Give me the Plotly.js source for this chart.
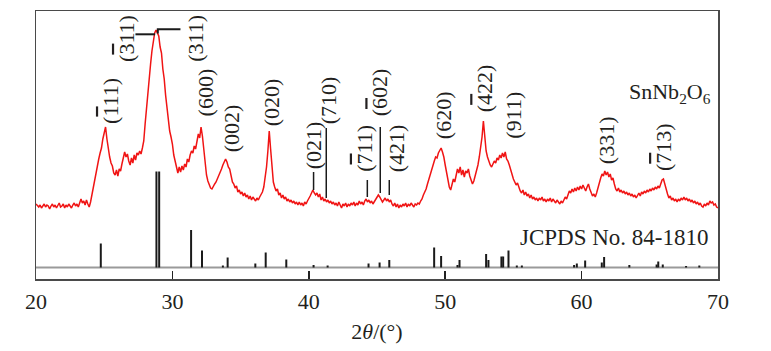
<!DOCTYPE html>
<html>
<head>
<meta charset="utf-8">
<script src="https://cdn.plot.ly/plotly-3.0.1.min.js"></script>
<style>html,body{margin:0;padding:0;background:#fff;}#chart{width:771px;height:351px;}</style>
</head>
<body>
<div id="chart"></div>
<script>
// 2θ sampling grid of the measured pattern
const thetaStart = 20.0;
const thetaStep = 0.1;
// measured SnNb2O6 intensity (a.u.), one value per 0.1° from 20.0° to 70.0°
const intensity = [
  75,73,72,74,71,73,75,72,74,73,
  70,73,75,72,74,71,74,76,72,73,
  75,71,74,72,75,73,71,74,76,73,
  75,72,77,80,76,78,74,79,75,72,
  77,84,92,100,108,116,120,126,131,140,
  147,152,140,128,122,116,113,106,104,109,
  103,110,108,115,120,127,122,125,118,114,
  121,116,124,119,126,124,128,125,131,138,
  155,172,190,205,215,228,240,246,249,246,
  243,232,226,210,200,184,170,158,148,142,
  135,124,118,110,106,112,107,113,109,115,
  112,120,117,124,128,126,133,130,138,145,
  141,152,143,128,115,104,98,94,91,90,
  93,95,97,100,103,107,110,114,117,120,
  117,112,110,104,97,95,91,93,87,89,
  85,87,83,86,82,84,80,83,79,82,
  80,78,81,79,82,85,87,92,100,112,
  128,148,130,108,97,92,88,90,84,86,
  81,84,80,82,78,80,77,79,76,78,
  75,77,74,77,74,76,73,77,75,78,
  80,83,86,89,86,84,86,82,85,79,
  82,78,80,77,79,76,78,75,77,74,
  76,73,77,74,71,75,73,76,72,75,
  73,76,74,77,73,76,74,78,75,77,
  74,78,80,77,79,76,78,75,77,79,
  81,84,82,80,77,79,81,78,80,77,
  79,75,73,76,72,75,71,74,72,75,
  73,76,72,75,73,76,74,72,75,74,
  76,75,78,80,84,87,90,95,100,104,
  108,114,118,122,121,126,128,131,127,122,
  114,106,99,92,89,94,100,97,105,110,
  106,112,104,109,102,108,106,110,103,99,
  95,98,103,108,114,122,130,142,158,140,
  128,122,117,114,112,115,118,116,121,119,
  124,121,126,122,127,120,118,114,109,105,
  100,97,94,96,91,88,86,89,84,87,
  83,85,81,84,80,82,79,81,78,81,
  79,82,78,80,77,80,78,81,77,80,
  78,76,79,77,75,78,76,79,82,80,
  85,88,86,90,87,91,88,92,89,93,
  90,94,91,88,92,95,90,86,83,85,
  82,86,90,96,101,105,103,108,104,107,
  102,105,99,101,95,90,88,91,87,89,
  86,88,85,87,84,86,83,85,82,84,
  81,84,86,83,87,85,88,86,89,87,
  90,88,91,89,92,90,93,91,95,99,
  100,94,88,85,81,83,79,81,78,80,
  77,80,78,81,79,82,79,81,78,80,
  77,79,76,78,75,77,74,76,73,72,
  75,73,76,74,78,76,77,74,75,72,
  71
];

// JCPDS No. 84-1810 reference lines
const stickBase = 11.5;
const stickPos = [24.75,28.83,29.03,31.37,32.17,33.70,34.05,36.08,36.84,38.35,40.35,41.38,44.38,45.19,45.90,
  49.19,49.70,50.90,51.05,53.00,53.17,54.12,54.25,54.64,55.25,55.62,59.45,59.65,60.26,61.48,61.65,63.50,
  65.50,65.62,65.95,67.66,68.63];
const stickHeight = [24,96,96,37.5,17,2,10,4,15,8,2.5,2,4,5,7.5,
  20,11.5,2.5,7.5,13.5,7.5,11,11,17,2,2,2.5,4,7,5,10.5,2.5,
  3,6,3,1.5,2];

// peak indexing labels: [leading "(", barred digit (or ""), rest]
const labelBar = ['1','3','','','','','','','7','6','','','4','','','7'];
const labelRest = ['11)','11)','(311)','(600)','(002)','(020)','(021)','(710)','11)','02)','(421)','(620)','22)','(911)','(331)','13)'];
const labelPos = [25.42,26.63,31.68,32.42,34.32,37.25,40.33,41.43,44.07,45.17,46.41,49.85,52.86,54.98,61.80,65.97];
const labelBottom = [154,216,216,162,126,152,109,154,106,162,106,139,166,139,114,107];

// leader lines from labels to peaks
const leaderPos = [40.35,41.28,44.29,45.24,45.90];
const leaderTop = [107,151,99,152,99];
const leaderBottom = [89,81,82,86,84];
const bracketX = [27.29,28.73,null,28.93,28.93,30.59];
const bracketY = [244.7,244.7,null,245.5,249.7,249.7];

const xTicks = [20,30,40,50,60,70];
const sampleName = 'SnNb<sub>2</sub>O<sub>6</sub>';
const refName = 'JCPDS No. 84-1810';

// ---- build ----
const twoTheta = intensity.map((_, i) => +(thetaStart + i * thetaStep).toFixed(2));
const sx = [], sy = [];
stickPos.forEach((p, i) => { sx.push(p, p, null); sy.push(stickBase, stickBase + stickHeight[i], null); });
const lx = [], ly = [];
leaderPos.forEach((p, i) => { lx.push(p, p, null); ly.push(leaderBottom[i], leaderTop[i], null); });

const serif = '"Liberation Serif", "Times New Roman", Times, serif';
const ink = '#231f20';

const traces = [
  {x: twoTheta, y: intensity, type: 'scatter', mode: 'lines',
   line: {color: '#f01414', width: 1.5}, hoverinfo: 'skip'},
  {x: sx, y: sy, type: 'scatter', mode: 'lines',
   line: {color: '#1a1a1a', width: 2}, hoverinfo: 'skip'},
  {x: lx, y: ly, type: 'scatter', mode: 'lines',
   line: {color: '#1a1a1a', width: 1.5}, hoverinfo: 'skip'},
  {x: bracketX, y: bracketY, type: 'scatter', mode: 'lines',
   line: {color: '#1a1a1a', width: 2}, hoverinfo: 'skip'}
];

const labelText = labelRest.map((r, i) => labelBar[i]
  ? '(<span style="text-decoration:overline">' + labelBar[i] + '</span>' + r
  : r);

const annotations = labelText.map((t, i) => ({
  x: labelPos[i], y: labelBottom[i], xref: 'x', yref: 'y', text: t, showarrow: false,
  textangle: -90, xanchor: 'center', yanchor: 'bottom', borderpad: 0,
  font: {family: serif, size: 22, color: ink}
}));
annotations.push({x: 69.65, y: 186, xref: 'x', yref: 'y', text: sampleName, showarrow: false,
  xanchor: 'right', yanchor: 'middle', font: {family: serif, size: 22, color: ink}});
annotations.push({x: 69.45, y: 42, xref: 'x', yref: 'y', text: refName, showarrow: false,
  xanchor: 'right', yanchor: 'middle', font: {family: serif, size: 23, color: ink}});

const layout = {
  width: 771, height: 351,
  margin: {l: 36, r: 53, t: 11, b: 72},
  paper_bgcolor: '#fff', plot_bgcolor: '#fff',
  showlegend: false,
  xaxis: {
    range: [20, 70], tickvals: xTicks, ticktext: xTicks.map(String),
    ticks: 'inside', ticklen: 8, tickwidth: 1.5, tickcolor: '#222',
    showgrid: false, zeroline: false,
    showline: true, linecolor: '#4a4a4a', linewidth: 1.5, mirror: true,
    tickfont: {family: serif, size: 22, color: ink},
    ticklabelstandoff: 2,
    title: {text: '2<i>θ</i>/(°)', font: {family: serif, size: 22, color: ink}, standoff: 10}
  },
  yaxis: {
    range: [0, 268], showticklabels: false, ticks: '',
    showgrid: false, zeroline: false,
    showline: true, linecolor: '#4a4a4a', linewidth: 1.5, mirror: true
  },
  shapes: [{type: 'line', xref: 'paper', yref: 'y', x0: 0, x1: 1, y0: stickBase, y1: stickBase,
    line: {color: '#9a9a9a', width: 2}, layer: 'below'}],
  annotations: annotations
};

Plotly.newPlot('chart', traces, layout, {staticPlot: true, displayModeBar: false});
</script>
</body>
</html>
